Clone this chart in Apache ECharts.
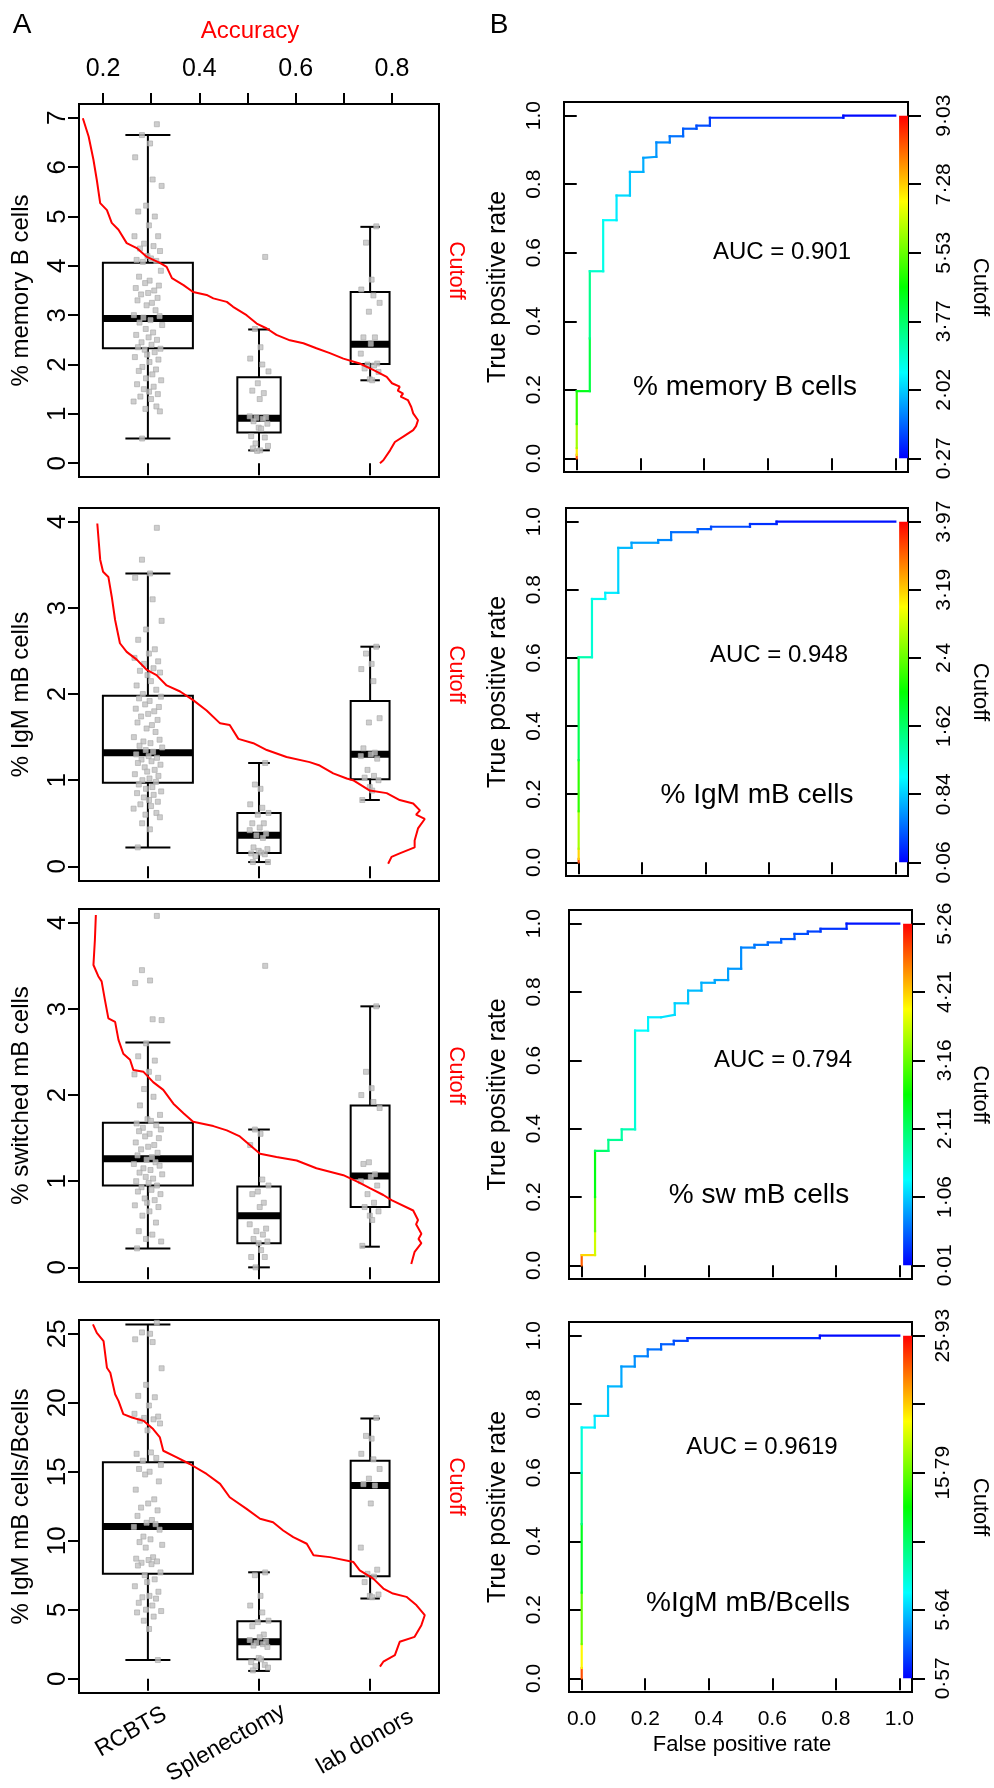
<!DOCTYPE html>
<html><head><meta charset="utf-8">
<script src="https://cdn.jsdelivr.net/npm/echarts@6/dist/echarts.min.js"></script>
<style>html,body{margin:0;padding:0;background:#fff}#c{width:994px;height:1788px}</style>
</head><body><div id="c"></div>
<script>
// ---------------- DATA ----------------
const groups = ['RCBTS', 'Splenectomy', 'lab donors'];
const yTitles = ['% memory B cells', '% IgM mB cells', '% switched mB cells', '% IgM mB cells/Bcells'];
const rocTitles = ['% memory B cells', '% IgM mB cells', '% sw mB cells', '%IgM mB/Bcells'];
const aucLabels = ['AUC = 0.901', 'AUC = 0.948', 'AUC = 0.794', 'AUC = 0.9619'];
const accuracyTicks = [0.2, 0.3, 0.4, 0.5, 0.6, 0.7, 0.8];
const accuracyLabels = [0.2, 0.4, 0.6, 0.8];
const leftYTicks = [[0,1,2,3,4,5,6,7],[0,1,2,3,4],[0,1,2,3,4],[0,5,10,15,20,25]];
const rateTicks = [0, 0.2, 0.4, 0.6, 0.8, 1.0];
const cutoffTickLabels = [
  ['0·27','2·02','3·77','5·53','7·28','9·03'],
  ['0·06','0·84','1·62','2·4','3·19','3·97'],
  ['0·01','1·06','2·11','3·16','4·21','5·26'],
  ['0·57','5·64','','15·79','','25·93']
];
const cutoffRanges = [[0.27, 9.03], [0.06, 3.97], [0.01, 5.26], [0.57, 25.93]];

// box stats: [lower whisker, Q1, median, Q3, upper whisker] for RCBTS, Splenectomy, lab donors
const memB_box  = [[0.50,2.33,2.93,4.06,6.65],[0.26,0.62,0.91,1.74,2.71],[1.68,2.01,2.41,3.47,4.79]];
const igm_box   = [[0.22,0.97,1.32,1.98,3.40],[0.05,0.155,0.36,0.62,1.20],[0.77,1.01,1.30,1.92,2.55]];
const sw_box    = [[0.22,0.95,1.26,1.68,2.61],[0.0,0.28,0.60,0.94,1.60],[0.24,0.70,1.06,1.88,3.03]];
const igmB_box  = [[1.35,7.61,11.03,15.68,25.68],[0.56,1.40,2.68,4.17,7.71],[5.81,7.42,14.0,15.8,18.86]];

// individual values
const memB_rcbts = [6.87,6.65,6.48,6.2,5.75,5.62,5.22,5.1,5.0,4.82,4.6,4.6,4.45,4.4,4.35,4.3,4.2,4.15,4.12,4.1,4.08,3.9,3.78,3.7,3.65,3.6,3.55,3.5,3.45,3.42,3.35,3.3,3.25,3.2,3.1,3.0,2.98,2.95,2.9,2.85,2.8,2.72,2.65,2.6,2.55,2.5,2.45,2.4,2.35,2.32,2.3,2.25,2.2,2.15,2.1,2.05,1.95,1.9,1.87,1.8,1.72,1.68,1.6,1.55,1.5,1.45,1.4,1.35,1.3,1.25,1.15,1.1,1.05,0.5];
const memB_splen = [4.18,2.72,2.35,2.12,2.0,1.86,1.62,1.47,1.42,1.3,0.95,0.93,0.92,0.9,0.85,0.8,0.72,0.7,0.55,0.52,0.4,0.35,0.3,0.26,0.25];
const memB_lab   = [4.8,4.47,3.72,3.52,3.4,3.25,3.07,2.55,2.55,2.42,2.22,2.02,2.0,1.98,1.92,1.85,1.7,1.68];

const igm_rcbts = [3.93,3.56,3.40,3.35,3.10,2.85,2.75,2.63,2.52,2.47,2.42,2.38,2.35,2.3,2.27,2.25,2.22,2.15,2.1,2.05,2.0,1.97,1.95,1.92,1.88,1.85,1.83,1.8,1.77,1.74,1.7,1.67,1.64,1.6,1.56,1.5,1.47,1.45,1.43,1.4,1.38,1.35,1.33,1.3,1.28,1.26,1.24,1.22,1.2,1.18,1.15,1.12,1.1,1.07,1.05,1.02,1.0,0.98,0.95,0.92,0.9,0.87,0.85,0.83,0.8,0.77,0.75,0.72,0.7,0.67,0.62,0.6,0.57,0.5,0.43,0.22];
const igm_splen = [1.2,0.95,0.9,0.72,0.68,0.62,0.6,0.5,0.5,0.45,0.42,0.38,0.36,0.33,0.22,0.2,0.18,0.16,0.15,0.14,0.12,0.05,0.05];
const igm_lab   = [2.55,2.47,2.35,2.29,2.15,1.72,1.67,1.37,1.32,1.3,1.28,1.25,1.12,1.05,1.03,1.0,0.92,0.88,0.77];

const sw_rcbts = [4.08,3.45,3.33,3.3,2.88,2.87,2.6,2.45,2.4,2.27,2.24,2.2,2.07,1.98,1.88,1.77,1.72,1.7,1.67,1.65,1.62,1.6,1.58,1.55,1.52,1.5,1.45,1.42,1.4,1.37,1.33,1.3,1.28,1.25,1.22,1.2,1.18,1.15,1.13,1.1,1.08,1.05,1.03,1.0,0.98,0.95,0.93,0.9,0.88,0.85,0.8,0.78,0.75,0.72,0.7,0.65,0.6,0.52,0.42,0.38,0.33,0.3,0.22];
const sw_splen = [3.5,1.6,1.55,1.42,1.02,0.95,0.88,0.85,0.75,0.7,0.5,0.45,0.42,0.38,0.33,0.3,0.28,0.2,0.12,0.12,0.0];
const sw_lab   = [3.03,2.27,2.08,2.0,1.92,1.85,1.22,1.2,1.08,1.05,1.0,0.95,0.85,0.75,0.7,0.65,0.6,0.55,0.25];

const igmB_rcbts = [25.8,25.1,25.0,24.6,24.4,22.5,21.3,20.5,20.4,19.8,19.2,19.0,18.9,18.8,18.7,18.5,18.0,16.4,16.3,16.0,15.8,15.5,15.2,15.0,14.8,14.3,13.7,13.0,12.7,12.4,12.2,11.8,11.5,11.3,11.2,11.0,10.8,10.3,10.1,9.9,9.7,9.5,8.8,8.7,8.6,8.5,8.4,8.3,8.2,7.7,7.5,7.2,7.0,6.7,6.3,6.0,5.9,5.8,5.5,5.3,5.0,4.9,4.8,4.5,4.2,3.6,1.35];
const igmB_splen = [7.7,7.5,6.0,5.3,4.8,4.2,4.1,3.8,3.2,3.0,2.8,2.7,2.6,2.5,2.4,2.3,1.5,1.4,1.2,1.0,0.9,0.8,0.6];
const igmB_lab   = [18.9,17.6,17.4,16.3,15.9,15.2,14.5,14.1,14.0,12.7,9.5,7.9,7.6,7.4,7.0,6.1,6.0,5.9];

// horizontal jitter (fraction of the spread)
const jitter = [0.62,-0.41,0.15,-0.88,0.33,0.95,-0.12,-0.67,0.48,0.07,-0.93,0.71,-0.26,0.39,-0.55,0.84,-0.03,0.21,-0.78,0.58,-0.35,0.9,-0.61,0.12,-0.19,0.76,-0.84,0.44,0.02,-0.47,0.67,-0.72,0.28,-0.09,0.53,-0.97,0.81,-0.31,0.18,-0.58,0.99,-0.15,0.36,-0.81,0.05,0.63,-0.44,0.25,-0.69,0.87,-0.22,0.47,-0.05,-0.9,0.73,0.11,-0.38,0.56,-0.63,0.31,-0.13,0.92,-0.75,0.4,-0.28,0.08,0.69,-0.52,0.22,-0.99,0.59,-0.17,0.83,-0.4,0.14,-0.7,0.5,-0.08,0.78,-0.33,0.01,-0.86,0.65,-0.24,0.42,-0.6,0.97,-0.11,0.27,-0.77,0.55,-0.46,0.09,0.74,-0.36,0.19,-0.64,0.88,-0.02,0.45];

// accuracy vs cutoff curves: [accuracy, cutoff]
const memB_accuracy = [[0.158,6.99],[0.170,6.62],[0.180,6.15],[0.187,5.74],[0.194,5.27],[0.208,5.13],[0.218,4.87],[0.232,4.73],[0.249,4.46],[0.270,4.36],[0.291,4.18],[0.318,4.06],[0.332,3.98],[0.343,3.75],[0.367,3.61],[0.387,3.47],[0.415,3.41],[0.429,3.34],[0.457,3.27],[0.470,3.17],[0.498,3.00],[0.519,2.83],[0.540,2.73],[0.560,2.60],[0.588,2.49],[0.616,2.43],[0.643,2.33],[0.671,2.23],[0.699,2.12],[0.733,2.02],[0.761,1.89],[0.789,1.75],[0.800,1.62],[0.816,1.55],[0.812,1.47],[0.823,1.41],[0.818,1.35],[0.833,1.28],[0.840,1.14],[0.844,1.01],[0.854,0.87],[0.850,0.75],[0.844,0.67],[0.825,0.55],[0.806,0.43],[0.796,0.26],[0.782,0.06],[0.775,0.0]];
const igm_accuracy = [[0.188,3.98],[0.194,3.56],[0.200,3.42],[0.211,3.36],[0.218,3.13],[0.225,2.86],[0.235,2.59],[0.249,2.49],[0.270,2.40],[0.291,2.28],[0.311,2.22],[0.332,2.10],[0.360,2.03],[0.387,1.93],[0.415,1.81],[0.443,1.66],[0.463,1.64],[0.481,1.48],[0.512,1.43],[0.540,1.35],[0.581,1.27],[0.629,1.21],[0.650,1.17],[0.678,1.08],[0.706,1.02],[0.719,1.00],[0.754,0.88],[0.789,0.85],[0.816,0.77],[0.844,0.73],[0.858,0.65],[0.850,0.60],[0.868,0.55],[0.854,0.44],[0.847,0.30],[0.847,0.22],[0.816,0.15],[0.799,0.11],[0.792,0.03]];
const sw_accuracy = [[0.185,4.09],[0.183,3.80],[0.180,3.51],[0.190,3.38],[0.197,3.32],[0.204,3.10],[0.211,2.89],[0.225,2.85],[0.232,2.64],[0.242,2.48],[0.256,2.41],[0.263,2.29],[0.284,2.27],[0.304,2.15],[0.325,2.06],[0.346,1.90],[0.367,1.79],[0.387,1.69],[0.429,1.64],[0.457,1.59],[0.484,1.52],[0.526,1.32],[0.560,1.28],[0.602,1.24],[0.643,1.15],[0.699,1.07],[0.730,0.99],[0.754,0.92],[0.782,0.84],[0.799,0.78],[0.844,0.66],[0.854,0.55],[0.850,0.50],[0.861,0.39],[0.855,0.33],[0.861,0.28],[0.847,0.18],[0.840,0.04]];
const igmB_accuracy = [[0.179,25.68],[0.187,25.07],[0.201,24.47],[0.208,22.54],[0.215,22.18],[0.225,20.62],[0.232,20.14],[0.242,19.18],[0.260,18.93],[0.284,18.69],[0.304,18.09],[0.318,17.49],[0.325,16.52],[0.353,16.04],[0.380,15.56],[0.415,14.84],[0.443,14.12],[0.463,13.15],[0.498,12.31],[0.526,11.59],[0.553,11.34],[0.574,10.74],[0.595,10.26],[0.623,9.78],[0.637,8.94],[0.671,8.81],[0.720,8.45],[0.733,7.85],[0.761,7.25],[0.782,6.53],[0.802,6.17],[0.830,5.93],[0.851,5.32],[0.868,4.60],[0.861,3.88],[0.847,3.03],[0.816,2.67],[0.806,1.71],[0.782,1.23],[0.775,0.87]];

// ROC curves: vertices [false positive rate, true positive rate, cutoff]
const memB_roc = [[0,0,9.03],[0,0.01,7.5],[0,0.03,6.5],[0,0.1,5.5],[0,0.196,4.6],[0.041,0.196,4.3],[0.041,0.35,3.9],[0.041,0.546,3.0],[0.083,0.546,2.8],[0.083,0.695,2.5],[0.125,0.695,2.4],[0.125,0.767,2.2],[0.167,0.767,2.1],[0.167,0.836,1.9],[0.209,0.836,1.8],[0.209,0.877,1.7],[0.25,0.88,1.6],[0.25,0.922,1.5],[0.292,0.922,1.4],[0.292,0.94,1.3],[0.334,0.94,1.2],[0.334,0.962,1.1],[0.376,0.962,1.0],[0.376,0.971,0.95],[0.418,0.971,0.9],[0.418,0.994,0.8],[0.837,0.994,0.45],[0.837,1.0,0.4],[1.0,1.0,0.27]];
const igm_roc = [[0,0,3.97],[0,0.01,3.4],[0,0.04,2.9],[0,0.15,2.4],[0,0.3,2.0],[0,0.602,1.4],[0.042,0.602,1.3],[0.042,0.773,1.1],[0.084,0.773,1.05],[0.084,0.791,1.0],[0.125,0.791,0.95],[0.125,0.923,0.8],[0.167,0.923,0.75],[0.167,0.938,0.7],[0.251,0.938,0.65],[0.251,0.946,0.6],[0.292,0.946,0.57],[0.292,0.969,0.5],[0.376,0.969,0.45],[0.376,0.978,0.42],[0.418,0.978,0.4],[0.418,0.985,0.37],[0.541,0.985,0.3],[0.541,0.993,0.27],[0.625,0.993,0.22],[0.625,1,0.2],[1,1,0.06]];
const sw_roc = [[0,0,5.26],[0,0.03,4.3],[0.042,0.03,4.0],[0.042,0.1,3.4],[0.042,0.2,2.9],[0.042,0.335,2.2],[0.084,0.335,2.0],[0.084,0.367,1.9],[0.126,0.367,1.85],[0.126,0.398,1.75],[0.168,0.398,1.7],[0.168,0.687,1.35],[0.209,0.687,1.3],[0.209,0.726,1.25],[0.25,0.726,1.2],[0.293,0.733,1.15],[0.293,0.767,1.1],[0.335,0.767,1.05],[0.335,0.804,1.0],[0.377,0.804,0.95],[0.377,0.827,0.92],[0.419,0.827,0.9],[0.419,0.835,0.88],[0.461,0.835,0.85],[0.461,0.868,0.82],[0.502,0.868,0.78],[0.502,0.930,0.7],[0.544,0.930,0.66],[0.544,0.938,0.63],[0.586,0.938,0.6],[0.586,0.945,0.57],[0.628,0.945,0.54],[0.628,0.955,0.5],[0.670,0.955,0.47],[0.670,0.970,0.44],[0.712,0.970,0.4],[0.712,0.977,0.37],[0.752,0.977,0.34],[0.752,0.985,0.3],[0.834,0.985,0.25],[0.834,1,0.2],[1,1,0.01]];
const igmB_roc = [[0,0,25.93],[0,0.03,22],[0,0.1,17.5],[0,0.25,14],[0,0.45,11],[0,0.6,9],[0,0.732,7],[0.041,0.732,6.5],[0.041,0.766,6.2],[0.083,0.766,5.9],[0.083,0.852,5.2],[0.125,0.852,5.0],[0.125,0.91,4.5],[0.167,0.91,4.3],[0.167,0.94,4.0],[0.208,0.94,3.8],[0.208,0.96,3.5],[0.25,0.96,3.3],[0.25,0.975,3.0],[0.29,0.975,2.8],[0.29,0.985,2.5],[0.333,0.985,2.3],[0.333,0.993,2.0],[0.75,0.993,1.2],[0.75,1,1.0],[1,1,0.57]];

// ---------------- LAYOUT / STYLE ----------------
const FONT = '"Liberation Sans", Arial, Helvetica, sans-serif';
const rainbow = ['#0000FF','#0080FF','#00FFFF','#00FF80','#00FF00','#80FF00','#FFFF00','#FF8000','#FF0000'];
const leftGrids  = [[79,104,360,373],[79,508,360,373],[79,909,360,373],[79,1320,360,373]];
const rightGrids = [[564,102,344,370],[566,508,342,368],[569,910,343,369],[569,1322,343,370]];
const leftYRanges = [[-0.28,7.28],[-0.17,4.16],[-0.17,4.16],[-1.04,26]];
const boxWidths = [0.81, 0.39, 0.35];
const jitterSpread = [0.13, 0.09, 0.09];
const rowBoxes = [memB_box, igm_box, sw_box, igmB_box];
const rowPoints = [[memB_rcbts, memB_splen, memB_lab],[igm_rcbts, igm_splen, igm_lab],[sw_rcbts, sw_splen, sw_lab],[igmB_rcbts, igmB_splen, igmB_lab]];
const rowAccuracy = [memB_accuracy, igm_accuracy, sw_accuracy, igmB_accuracy];
const rowRoc = [memB_roc, igm_roc, sw_roc, igmB_roc];
const rocYLabelMargin = [19, 21, 24, 24];
const cbLabelMargin = [26, 26, 23, 21];
const aucPos = [[782,252],[779,655],[783,1060],[762,1447]];
const rocTitlePos = [[745,387],[757,795],[759,1195],[748,1603]];
const catLabelPos = [[131,1732],[226,1743],[365,1742]];

const blackTick = {lineStyle: {color: '#000', width: 2}};

function boxRender(params, api) {
  const cx = api.value(0), lo = api.value(1), q1 = api.value(2), md = api.value(3), q3 = api.value(4), hi = api.value(5), w = api.value(6);
  const a = api.coord([cx - w / 2, q3]), b = api.coord([cx + w / 2, q1]);
  const m1 = api.coord([cx - w / 2, md]), m2 = api.coord([cx + w / 2, md]);
  const top = api.coord([cx, hi]), bot = api.coord([cx, lo]);
  const s1 = api.coord([cx - w / 4, hi]), s2 = api.coord([cx + w / 4, hi]);
  const t1 = api.coord([cx - w / 4, lo]), t2 = api.coord([cx + w / 4, lo]);
  const ls = {stroke: '#000', lineWidth: 2};
  return {type: 'group', children: [
    {type: 'line', shape: {x1: top[0], y1: top[1], x2: top[0], y2: a[1]}, style: ls},
    {type: 'line', shape: {x1: bot[0], y1: bot[1], x2: bot[0], y2: b[1]}, style: ls},
    {type: 'line', shape: {x1: s1[0], y1: s1[1], x2: s2[0], y2: s2[1]}, style: ls},
    {type: 'line', shape: {x1: t1[0], y1: t1[1], x2: t2[0], y2: t2[1]}, style: ls},
    {type: 'rect', shape: {x: a[0], y: a[1], width: b[0] - a[0], height: b[1] - a[1]}, style: {fill: '#fff', stroke: '#000', lineWidth: 2}},
    {type: 'line', shape: {x1: m1[0], y1: m1[1], x2: m2[0], y2: m2[1]}, style: {stroke: '#000', lineWidth: 7}}
  ]};
}
function rocRender(params, api) {
  const p1 = api.coord([api.value(0), api.value(1)]);
  const p2 = api.coord([api.value(2), api.value(3)]);
  return {type: 'line', shape: {x1: p1[0], y1: p1[1], x2: p2[0], y2: p2[1]},
    style: {stroke: api.visual('color'), lineWidth: 2.2, lineCap: 'square'}};
}
function barRender(params, api) {
  const p1 = api.coord([1.012, 1]), p2 = api.coord([1.04, 0]);
  const stops = rainbow.slice().reverse().map((c, i, arr) => ({offset: i / (arr.length - 1), color: c}));
  return {type: 'rect', shape: {x: p1[0], y: p1[1], width: p2[0] - p1[0], height: p2[1] - p1[1]},
    style: {fill: new echarts.graphic.LinearGradient(0, 0, 0, 1, stops)}};
}

const grid = [], xAxis = [], yAxis = [], series = [], visualMap = [], graphic = [];
function txt(x, y, text, size, color, rot) {
  graphic.push({type: 'text', x: x, y: y, rotation: rot || 0, silent: true,
    style: {text: text, fill: color || '#000', font: size + 'px ' + FONT,
      align: 'center', verticalAlign: 'middle', textAlign: 'center', textVerticalAlign: 'middle'}});
}

for (let r = 0; r < 4; r++) {
  const g = leftGrids[r];
  grid.push({left: g[0], top: g[1], width: g[2], height: g[3], show: true, borderColor: '#000', borderWidth: 2, backgroundColor: 'transparent', containLabel: false});
  // category position axis
  xAxis.push({type: 'value', gridIndex: r, position: 'bottom', min: 0.38, max: 3.62,
    axisLine: {show: false}, splitLine: {show: false},
    axisTick: {show: true, length: 12, customValues: [1, 2, 3], ...blackTick},
    axisLabel: {show: false}});
  // accuracy axis (top)
  xAxis.push({type: 'value', gridIndex: r, position: 'top', min: 0.150, max: 0.8976, show: r === 0,
    axisLine: {show: false}, splitLine: {show: false},
    axisTick: {show: true, length: 11, customValues: accuracyTicks, ...blackTick},
    axisLabel: {show: true, customValues: accuracyLabels, formatter: v => v.toFixed(1), color: '#000', fontSize: 25, fontFamily: FONT, margin: 22}});
  yAxis.push({type: 'value', gridIndex: r, position: 'left', min: leftYRanges[r][0], max: leftYRanges[r][1],
    axisLine: {show: false}, splitLine: {show: false},
    axisTick: {show: true, length: 11, customValues: leftYTicks[r], ...blackTick},
    axisLabel: {show: true, customValues: leftYTicks[r], rotate: 90, color: '#000', fontSize: 26, fontFamily: FONT, margin: 8, formatter: v => String(v)}});
}
for (let r = 0; r < 4; r++) {
  const g = rightGrids[r];
  grid.push({left: g[0], top: g[1], width: g[2], height: g[3], show: true, borderColor: '#000', borderWidth: 2, backgroundColor: 'transparent', containLabel: false});
  xAxis.push({type: 'value', gridIndex: 4 + r, position: 'bottom', min: -0.04, max: 1.04,
    axisLine: {show: false}, splitLine: {show: false},
    axisTick: {show: true, length: 12, customValues: rateTicks, ...blackTick},
    axisLabel: {show: r === 3, customValues: rateTicks, formatter: v => v.toFixed(1), color: '#000', fontSize: 21, fontFamily: FONT, margin: 17}});
  yAxis.push({type: 'value', gridIndex: 4 + r, position: 'left', min: -0.04, max: 1.04,
    axisLine: {show: false}, splitLine: {show: false},
    axisTick: {show: true, length: 12, customValues: rateTicks, ...blackTick},
    axisLabel: {show: true, customValues: rateTicks, rotate: 90, formatter: v => v.toFixed(1), color: '#000', fontSize: 21, fontFamily: FONT, margin: rocYLabelMargin[r]}});
  const labs = cutoffTickLabels[r];
  yAxis.push({type: 'value', gridIndex: 4 + r, position: 'right', min: -0.04, max: 1.04,
    axisLine: {show: false}, splitLine: {show: false},
    axisTick: {show: true, length: 13, customValues: rateTicks, ...blackTick},
    axisLabel: {show: true, customValues: rateTicks, rotate: 90, formatter: v => labs[Math.round(v * 5)], color: '#000', fontSize: 21, fontFamily: FONT, margin: cbLabelMargin[r]}});
}

// left column series
for (let r = 0; r < 4; r++) {
  const boxData = groups.map((gname, j) => [j + 1].concat(rowBoxes[r][j]).concat([boxWidths[j]]));
  series.push({type: 'custom', name: 'box' + r, xAxisIndex: 2 * r, yAxisIndex: r, renderItem: boxRender, data: boxData, z: 2, silent: true});
  const pts = [];
  groups.forEach((gname, j) => {
    rowPoints[r][j].forEach((v, k) => pts.push([j + 1 + jitter[k % jitter.length] * jitterSpread[j], v]));
  });
  series.push({type: 'scatter', xAxisIndex: 2 * r, yAxisIndex: r, data: pts, symbol: 'rect', symbolSize: 5,
    itemStyle: {color: '#c2c2c2', borderColor: '#a9a9a9', borderWidth: 0.8}, z: 3, silent: true});
  series.push({type: 'line', xAxisIndex: 2 * r + 1, yAxisIndex: r, data: rowAccuracy[r], showSymbol: false, symbol: 'none',
    lineStyle: {color: '#ff0000', width: 2}, z: 4, silent: true});
}
// right column series
for (let r = 0; r < 4; r++) {
  const v = rowRoc[r];
  const segs = [];
  for (let k = 0; k < v.length - 1; k++) segs.push([v[k][0], v[k][1], v[k + 1][0], v[k + 1][1], (v[k][2] + v[k + 1][2]) / 2]);
  visualMap.push({type: 'continuous', show: false, seriesIndex: series.length, dimension: 4,
    min: cutoffRanges[r][0], max: cutoffRanges[r][1], inRange: {color: rainbow}});
  series.push({type: 'custom', xAxisIndex: 8 + r, yAxisIndex: 4 + 2 * r, renderItem: rocRender, data: segs, z: 3, silent: true,
    dimensions: ['x1', 'y1', 'x2', 'y2', 'cut'], encode: {x: [0, 2], y: [1, 3]}});
  series.push({type: 'custom', xAxisIndex: 8 + r, yAxisIndex: 4 + 2 * r, renderItem: barRender, data: [[1.02, 0.5]], z: 2, silent: true});
}

// texts
txt(22, 25, 'A', 28);
txt(499, 25, 'B', 28);
txt(250, 31, 'Accuracy', 24, '#ff0000');
for (let r = 0; r < 4; r++) {
  const g = leftGrids[r];
  const cy = g[1] + g[3] / 2;
  txt(21, cy, yTitles[r], 24, '#000', Math.PI / 2);
  txt(456, cy - 20, 'Cutoff', 22, '#ff0000', -Math.PI / 2);
  const h = rightGrids[r];
  const cy2 = h[1] + h[3] / 2;
  txt(498, cy2, 'True positive rate', 25, '#000', Math.PI / 2);
  txt(980, cy2, 'Cutoff', 22, '#000', -Math.PI / 2);
  txt(aucPos[r][0], aucPos[r][1], aucLabels[r], 24);
  txt(rocTitlePos[r][0], rocTitlePos[r][1], rocTitles[r], 28);
}
txt(742, 1745, 'False positive rate', 22);
groups.forEach((gname, j) => txt(catLabelPos[j][0], catLabelPos[j][1], gname, 23, '#000', Math.PI / 6));

const chart = echarts.init(document.getElementById('c'), null, {renderer: 'canvas'});
chart.setOption({animation: false, backgroundColor: '#fff', grid, xAxis, yAxis, series, visualMap, graphic: {elements: graphic}});
</script></body></html>
